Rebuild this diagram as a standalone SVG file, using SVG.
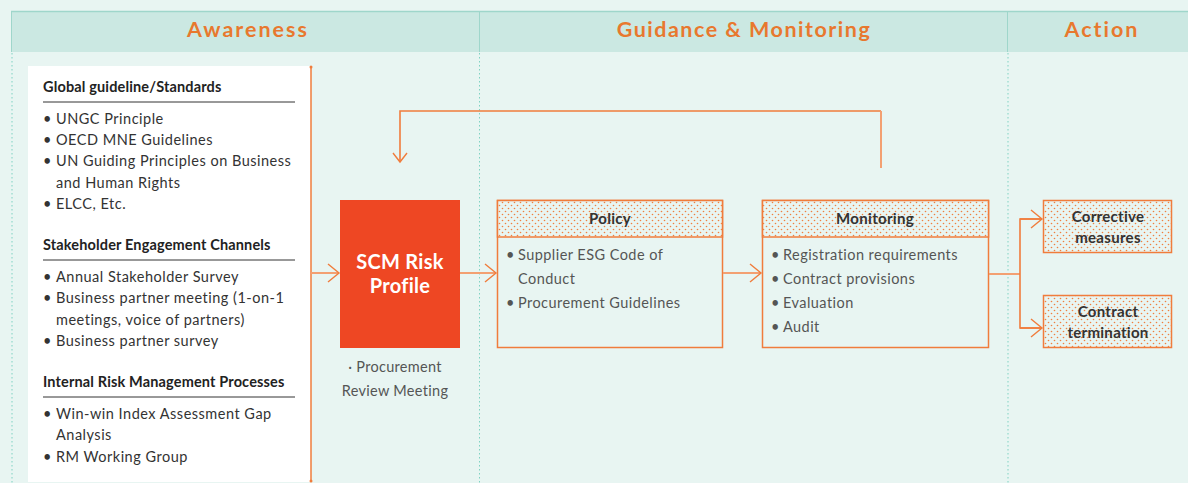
<svg xmlns="http://www.w3.org/2000/svg" width="1188" height="483" viewBox="0 0 1188 483">
<defs>
<style>
.hd{font-family:Lato,"Noto Sans",sans-serif;font-weight:bold;font-size:21.5px;fill:#e8782e;letter-spacing:1.5px;text-anchor:middle}
.hd1{letter-spacing:2px}
.sec{font-family:Lato,"Noto Sans",sans-serif;font-weight:bold;font-size:14.5px;fill:#222;letter-spacing:0.15px}
.li{font-family:Lato,"Noto Sans",sans-serif;font-size:14.5px;fill:#333;letter-spacing:0.5px}
.lg{font-family:Lato,"Noto Sans",sans-serif;font-size:14.5px;fill:#555;letter-spacing:0.45px}
.bt{font-family:Lato,"Noto Sans",sans-serif;font-weight:bold;font-size:15px;fill:#333;text-anchor:middle;letter-spacing:0.3px}
.sub{font-family:Lato,"Noto Sans",sans-serif;font-size:14.5px;fill:#555;text-anchor:middle;letter-spacing:0.3px}
.box{fill:#e8f5f2;stroke:#f07c3c;stroke-width:1.5}
.dot{fill:url(#dots);stroke:#f07c3c;stroke-width:1.5}
.con{fill:none;stroke:#f3a072;stroke-width:2}
.con2{fill:none;stroke:#f07c3c;stroke-width:1.6}
.div{stroke:#7fd2c2;stroke-width:1;stroke-dasharray:1.5 2.5}
</style>
<pattern id="dots" width="6" height="6" patternUnits="userSpaceOnUse">
<rect width="6" height="6" fill="#e8f5f2"/>
<circle cx="1.5" cy="1.5" r="0.8" fill="#f08040"/>
<circle cx="4.5" cy="4.5" r="0.8" fill="#f08040"/>
</pattern>
<marker id="ah" markerWidth="14" markerHeight="22" refX="12" refY="10" orient="auto" markerUnits="userSpaceOnUse">
<path d="M1,1 L12,10 L1,19" fill="none" stroke="#f07c3c" stroke-width="1.4"/>
</marker>
<marker id="ahs" markerWidth="12" markerHeight="18" refX="10" refY="8" orient="auto" markerUnits="userSpaceOnUse">
<path d="M1,1 L10,8 L1,15" fill="none" stroke="#f07c3c" stroke-width="1.4"/>
</marker>
</defs>
<rect width="1188" height="483" fill="#e8f5f2"/>

<g id="header">
<rect x="11" y="11" width="1177" height="41" fill="#cbe8e2"/>
<line x1="11" y1="11.5" x2="1188" y2="11.5" stroke="#9fd6cb" stroke-width="1.5"/>
<line x1="11.5" y1="11" x2="11.5" y2="52" stroke="#9fd6cb" stroke-width="1"/>
<line x1="479.5" y1="11" x2="479.5" y2="52" stroke="#9fd6cb" stroke-width="1"/>
<line x1="1007.5" y1="11" x2="1007.5" y2="52" stroke="#9fd6cb" stroke-width="1"/>
<text class="hd hd1" x="248" y="37">Awareness</text>
<text class="hd" x="744" y="37">Guidance &amp; Monitoring</text>
<text class="hd hd1" x="1102" y="37">Action</text>
</g>

<g id="dividers">
<line class="div" x1="12" y1="53" x2="12" y2="483"/>
<line class="div" x1="479.5" y1="53" x2="479.5" y2="483"/>
<line class="div" x1="1008" y1="53" x2="1008" y2="483"/>
</g>

<g id="awareness-list">
<rect x="28" y="66" width="283" height="416" fill="#ffffff"/>
<text class="sec" x="43" y="92">Global guideline/Standards</text>
<line x1="43" y1="102" x2="295" y2="102" stroke="#333" stroke-width="1"/>
<text class="li" y="124"><tspan x="43">•</tspan><tspan x="56">UNGC Principle</tspan></text>
<text class="li" y="145"><tspan x="43">•</tspan><tspan x="56">OECD MNE Guidelines</tspan></text>
<text class="li" y="166"><tspan x="43">•</tspan><tspan x="56">UN Guiding Principles on Business</tspan></text>
<text class="li" x="56" y="188">and Human Rights</text>
<text class="li" y="209"><tspan x="43">•</tspan><tspan x="56">ELCC, Etc.</tspan></text>
<text class="sec" x="43" y="250">Stakeholder Engagement Channels</text>
<line x1="43" y1="260" x2="295" y2="260" stroke="#333" stroke-width="1"/>
<text class="li" y="282"><tspan x="43">•</tspan><tspan x="56">Annual Stakeholder Survey</tspan></text>
<text class="li" y="303"><tspan x="43">•</tspan><tspan x="56">Business partner meeting (1-on-1</tspan></text>
<text class="li" x="56" y="325">meetings, voice of partners)</text>
<text class="li" y="346"><tspan x="43">•</tspan><tspan x="56">Business partner survey</tspan></text>
<text class="sec" x="43" y="387">Internal Risk Management Processes</text>
<line x1="43" y1="397" x2="295" y2="397" stroke="#333" stroke-width="1"/>
<text class="li" y="419"><tspan x="43">•</tspan><tspan x="56">Win-win Index Assessment Gap</tspan></text>
<text class="li" x="56" y="440">Analysis</text>
<text class="li" y="462"><tspan x="43">•</tspan><tspan x="56">RM Working Group</tspan></text>
</g>

<g id="scm-risk-profile">
<rect x="340" y="200" width="120" height="148" fill="#ee4723"/>
<text x="400" y="269" font-family="Lato,'Noto Sans',sans-serif" font-weight="bold" font-size="20" fill="#fff" text-anchor="middle" letter-spacing="0.3">SCM Risk</text>
<text x="400" y="293" font-family="Lato,'Noto Sans',sans-serif" font-weight="bold" font-size="20" fill="#fff" text-anchor="middle" letter-spacing="0.3">Profile</text>
<text class="sub" x="395" y="372">· Procurement</text>
<text class="sub" x="395" y="396">Review Meeting</text>
</g>

<g id="policy">
<rect class="box" x="497.5" y="200.5" width="225" height="147"/>
<rect class="dot" x="497.5" y="200.5" width="225" height="36.5"/>
<text class="bt" x="610" y="224">Policy</text>
<text class="lg" y="260"><tspan x="506">•</tspan><tspan x="518">Supplier ESG Code of</tspan></text>
<text class="lg" x="518" y="284">Conduct</text>
<text class="lg" y="308"><tspan x="506">•</tspan><tspan x="518">Procurement Guidelines</tspan></text>
</g>

<g id="monitoring">
<rect class="box" x="762.5" y="200.5" width="226" height="147"/>
<rect class="dot" x="762.5" y="200.5" width="226" height="36.5"/>
<text class="bt" x="875" y="224">Monitoring</text>
<text class="lg" y="260"><tspan x="771">•</tspan><tspan x="783">Registration requirements</tspan></text>
<text class="lg" y="284"><tspan x="771">•</tspan><tspan x="783">Contract provisions</tspan></text>
<text class="lg" y="308"><tspan x="771">•</tspan><tspan x="783">Evaluation</tspan></text>
<text class="lg" y="332"><tspan x="771">•</tspan><tspan x="783">Audit</tspan></text>
</g>

<g id="corrective-measures">
<rect class="dot" x="1043.5" y="200.5" width="128" height="52"/>
<text class="bt" x="1108" y="222">Corrective</text>
<text class="bt" x="1108" y="243">measures</text>
</g>

<g id="contract-termination">
<rect class="dot" x="1043.5" y="295.5" width="128" height="52"/>
<text class="bt" x="1108" y="317">Contract</text>
<text class="bt" x="1108" y="338">termination</text>
</g>

<g id="connectors">
<line x1="311" y1="66" x2="311" y2="482" stroke="#f07c3c" stroke-width="1.5"/>
<circle cx="311" cy="67" r="1.5" fill="#f07c3c"/>
<circle cx="311" cy="481" r="1.5" fill="#f07c3c"/>
<line class="con" x1="311" y1="273" x2="339" y2="273" marker-end="url(#ah)"/>
<line class="con" x1="460" y1="273" x2="496" y2="273" marker-end="url(#ah)"/>
<line class="con" x1="723" y1="273" x2="761" y2="273" marker-end="url(#ah)"/>
<line class="con" x1="989" y1="274" x2="1020" y2="274"/>
<polyline class="con2" points="1042,219 1020,219 1020,328 1042,328"/>
<line class="con2" x1="1020" y1="219" x2="1042" y2="219" marker-end="url(#ah)"/>
<line class="con2" x1="1020" y1="328" x2="1042" y2="328" marker-end="url(#ah)"/>
<polyline class="con2" points="881,111 400,111 400,162" marker-end="url(#ahs)"/>
<line x1="881" y1="111" x2="881" y2="168" stroke="#f3a072" stroke-width="2"/>
</g>
</svg>
